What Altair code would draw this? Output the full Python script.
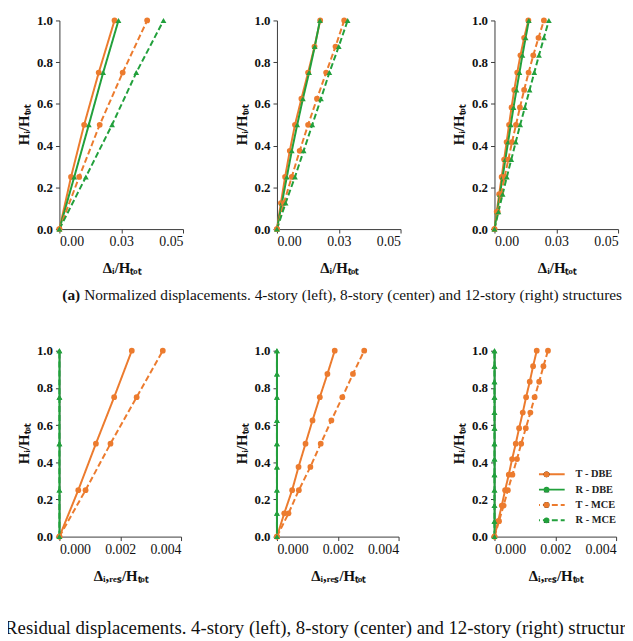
import altair as alt
import pandas as pd

# ---------------- data ----------------
SERIES = ["T - DBE", "R - DBE", "T - MCE", "R - MCE"]
COLORS = ["#EC7B2E", "#22A03C", "#EC7B2E", "#22A03C"]
DASHES = [[1, 0], [1, 0], [6, 3], [6, 3]]
SHAPES = ["circle", "triangle-up", "circle", "triangle-up"]

H4 = [0, 0.25, 0.5, 0.75, 1.0]
H8 = [0, 0.125, 0.25, 0.375, 0.5, 0.625, 0.75, 0.875, 1.0]
H12 = [0, 0.083, 0.167, 0.25, 0.333, 0.417, 0.5, 0.583, 0.667, 0.75, 0.833, 0.917, 1.0]

# (a) normalized displacements
T_DBE_4 = [0, 0.0047, 0.0100, 0.0159, 0.0223]
R_DBE_4 = [0, 0.0060, 0.0119, 0.0177, 0.0239]
T_MCE_4 = [0, 0.0080, 0.0163, 0.0256, 0.0355]
R_MCE_4 = [0, 0.0107, 0.0213, 0.0311, 0.0421]

T_DBE_8 = [0, 0.0016, 0.0033, 0.0052, 0.0073, 0.0099, 0.0126, 0.0152, 0.0175]
R_DBE_8 = [0, 0.0020, 0.0040, 0.0060, 0.0082, 0.0105, 0.0130, 0.0153, 0.0174]
T_MCE_8 = [0, 0.0028, 0.0060, 0.0092, 0.0126, 0.0162, 0.0199, 0.0237, 0.0272]
R_MCE_8 = [0, 0.0035, 0.0073, 0.0108, 0.0143, 0.0178, 0.0212, 0.0250, 0.0286]

T_DBE_12 = [0, 0.0009, 0.0019, 0.0029, 0.0039, 0.0049, 0.0059, 0.0069, 0.0080, 0.0092, 0.0105, 0.0120, 0.0137]
R_DBE_12 = [0, 0.0011, 0.0022, 0.0033, 0.0044, 0.0055, 0.0066, 0.0077, 0.0089, 0.0101, 0.0113, 0.0126, 0.0139]
T_MCE_12 = [0, 0.0013, 0.0027, 0.0041, 0.0056, 0.0071, 0.0087, 0.0103, 0.0120, 0.0138, 0.0157, 0.0178, 0.0200]
R_MCE_12 = [0, 0.0016, 0.0033, 0.0050, 0.0068, 0.0086, 0.0104, 0.0123, 0.0142, 0.0161, 0.0180, 0.0200, 0.0220]

# (b) residual displacements
RT_DBE_4 = [0, 0.00062, 0.00120, 0.00180, 0.00238]
RR_DBE_4 = [0, 0, 0, 0, 0]
RT_MCE_4 = [0, 0.00086, 0.00168, 0.00254, 0.00340]
RR_MCE_4 = [0, 0, 0, 0, 0]

RT_DBE_8 = [0, 0.00024, 0.00050, 0.00071, 0.00094, 0.00117, 0.00141, 0.00166, 0.00190]
RR_DBE_8 = [0, 0, 0, 0, 0, 0, 0, 0, 0]
RT_MCE_8 = [0, 0.00038, 0.00072, 0.00110, 0.00144, 0.00179, 0.00215, 0.00250, 0.00287]
RR_MCE_8 = [0, 0, 0, 0, 0, 0, 0, 0, 0]

RT_DBE_12 = [0, 0.00012, 0.00024, 0.00035, 0.00047, 0.00058, 0.00070, 0.00081, 0.00093, 0.00104, 0.00116, 0.00127, 0.00139]
RR_DBE_12 = [0, 0, 0, 0, 0, 0, 0, 0, 0, 0, 0, 0, 0]
RT_MCE_12 = [0, 0.00015, 0.00030, 0.00044, 0.00059, 0.00074, 0.00088, 0.00103, 0.00118, 0.00132, 0.00147, 0.00161, 0.00176]
RR_MCE_12 = [0, 0, 0, 0, 0, 0, 0, 0, 0, 0, 0, 0, 0]

X_TICKS_A = [0, 0.025, 0.05]
X_TICKS_B = [0, 0.002, 0.004]
Y_TICKS = [0, 0.2, 0.4, 0.6, 0.8, 1.0]

Y_TITLE = "Hᵢ/Hₜₒₜ"
X_TITLE_A = "Δᵢ/Hₜₒₜ"
X_TITLE_B = "Δᵢ,ᵣₑₛ/Hₜₒₜ"

CAP_A_TAG = "(a)"
CAP_A_TEXT = "Normalized displacements. 4-story (left), 8-story (center) and 12-story (right) structures"
CAP_B_TAG = "(b)"
CAP_B_TEXT = "Residual displacements. 4-story (left), 8-story (center) and 12-story (right) structures"

FONT = "Liberation Serif"


def make_df(h, vals):
    rows = []
    for s, v in zip(SERIES, vals):
        for hh, xx in zip(h, v):
            rows.append({"x": xx, "h": hh, "series": s, "series_pt": s})
    return pd.DataFrame(rows)


def caption(tag, text, x_tag, y, size, baseline):
    d = pd.DataFrame({"tag": [tag], "txt": [text]})
    t1 = alt.Chart(d).mark_text(
        align="right", baseline=baseline, font=FONT, fontSize=size,
        fontWeight="bold", color="#111"
    ).encode(text="tag:N", x=alt.value(x_tag), y=alt.value(y))
    t2 = alt.Chart(d).mark_text(
        align="left", baseline=baseline, font=FONT, fontSize=size, color="#111"
    ).encode(text="txt:N", x=alt.value(x_tag + 4), y=alt.value(y))
    return [t1, t2]


def panel(df, xdom, xticks, xfmt, xtitle, w, h, legend=False, extra=()):
    x = alt.X("x:Q", scale=alt.Scale(domain=xdom, nice=False, zero=True),
              axis=alt.Axis(values=xticks, format=xfmt, title=xtitle, labelPadding=2))
    y = alt.Y("h:Q", scale=alt.Scale(domain=[0, 1], nice=False),
              axis=alt.Axis(values=Y_TICKS, format=".1f", title=Y_TITLE,
                            labelFontWeight="bold", labelFontSize=13, labelPadding=3))
    if legend:
        lg_line = alt.Legend(orient="none", legendX=45, legendY=119, title=None,
                             symbolType="M-4,0H4", symbolSize=100, symbolStrokeWidth=2,
                             labelFont=FONT, labelFontSize=10.5, labelFontWeight="bold",
                             labelColor="#222", clipHeight=12, rowPadding=3.5, padding=0,
                             labelOffset=25)
        lg_pt = alt.Legend(orient="none", legendX=47.4, legendY=119, title=None,
                           symbolSize=34, symbolStrokeWidth=0, labelExpr="''",
                           labelFont=FONT, labelFontSize=10.5,
                           clipHeight=12, rowPadding=3.5, padding=0, labelOffset=7)
    else:
        lg_line = None
        lg_pt = None
    base = alt.Chart(df)
    lines = base.mark_line(strokeWidth=2).encode(
        x=x, y=y,
        stroke=alt.Stroke("series:N", scale=alt.Scale(domain=SERIES, range=COLORS), legend=lg_line),
        strokeDash=alt.StrokeDash("series:N", scale=alt.Scale(domain=SERIES, range=DASHES), legend=lg_line),
        order=alt.Order("h:Q"),
    )
    pts = base.mark_point(filled=True, size=34, opacity=1).encode(
        x=x, y=y,
        fill=alt.Fill("series_pt:N", sort=SERIES, scale=alt.Scale(range=COLORS), legend=lg_pt),
        shape=alt.Shape("series_pt:N", sort=SERIES, scale=alt.Scale(range=SHAPES), legend=lg_pt),
    )
    return alt.layer(lines, pts, *extra).properties(width=w, height=h)


WA, HA = 125, 211
WB, HB = 123, 188

p1 = panel(make_df(H4, [T_DBE_4, R_DBE_4, T_MCE_4, R_MCE_4]), [0, 0.05], X_TICKS_A, ".2f", X_TITLE_A, WA, HA)
p2 = panel(make_df(H8, [T_DBE_8, R_DBE_8, T_MCE_8, R_MCE_8]), [0, 0.05], X_TICKS_A, ".2f", X_TITLE_A, WA, HA,
           extra=caption(CAP_A_TAG, CAP_A_TEXT, -199, 278, 15.5, "middle"))
p3 = panel(make_df(H12, [T_DBE_12, R_DBE_12, T_MCE_12, R_MCE_12]), [0, 0.05], X_TICKS_A, ".2f", X_TITLE_A, WA, HA)
p4 = panel(make_df(H4, [RT_DBE_4, RR_DBE_4, RT_MCE_4, RR_MCE_4]), [0, 0.004], X_TICKS_B, ".3f", X_TITLE_B, WB, HB,
           extra=caption(CAP_B_TAG, CAP_B_TEXT, -59, 287, 19, "alphabetic"))
p5 = panel(make_df(H8, [RT_DBE_8, RR_DBE_8, RT_MCE_8, RR_MCE_8]), [0, 0.004], X_TICKS_B, ".3f", X_TITLE_B, WB, HB)
p6 = panel(make_df(H12, [RT_DBE_12, RR_DBE_12, RT_MCE_12, RR_MCE_12]), [0, 0.004], X_TICKS_B, ".3f", X_TITLE_B, WB, HB,
           legend=True)

chart = alt.concat(
    p1, p2, p3, p4, p5, p6, columns=3, spacing={"row": 123, "column": 95}, bounds="flush"
).resolve_scale(
    stroke="independent", strokeDash="independent", fill="independent", shape="independent"
).properties(
    padding={"left": -31, "top": 3, "right": -18, "bottom": 0}
).configure_view(stroke=None).configure_axis(
    grid=False, domainColor="#3a3a3a", tickColor="#3a3a3a", domainWidth=1, tickWidth=1,
    tickSize=4, labelFont=FONT, labelFontSize=14, labelColor="#111",
    titleFont=FONT, titleFontSize=15, titleFontWeight="bold", titleColor="#111"
).configure_axisY(titlePadding=5).configure_axisX(titlePadding=12)

chart.save("out.html", embed_options={"renderer": "svg", "actions": False})
